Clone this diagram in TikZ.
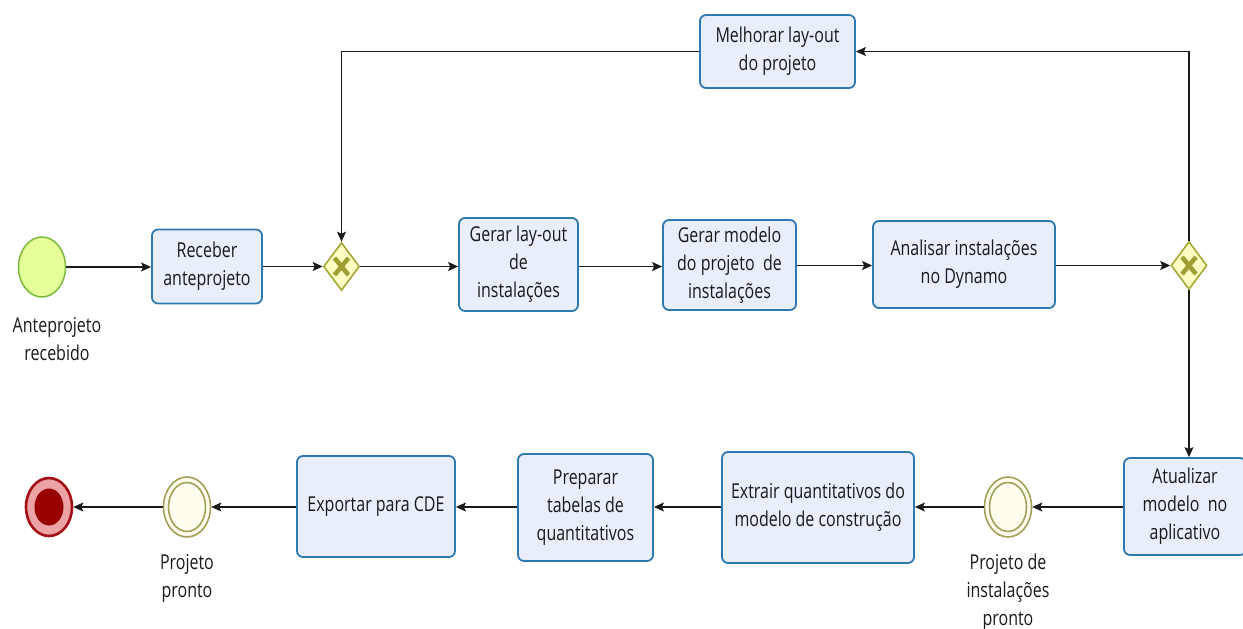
\documentclass[tikz,border=0pt]{standalone}
\usepackage{fontspec}
\setmainfont[FakeStretch=0.78]{Open Sans}
\usetikzlibrary{shapes.geometric,arrows.meta,calc}
\definecolor{taskfill}{HTML}{E9EEFB}
\definecolor{taskdraw}{HTML}{2F78B0}
\definecolor{gwfill}{HTML}{FFFFC4}
\definecolor{gwdraw}{HTML}{A6A636}
\definecolor{startfill}{HTML}{E5FF99}
\definecolor{startdraw}{HTML}{7BBA3C}
\definecolor{evfill}{HTML}{FFFDEE}
\definecolor{evdraw}{HTML}{A39E58}
\definecolor{endfill}{HTML}{EBA3A6}
\definecolor{enddraw}{HTML}{A30F14}
\definecolor{endin}{HTML}{990000}
\definecolor{flow}{HTML}{1A1A1A}
\tikzset{
  task/.style={draw=taskdraw, fill=taskfill, line width=1.8pt, rounded corners=6pt,
    align=center, inner sep=0pt, font=\fontsize{20.5}{28}\selectfont, text=black!90},
  gw/.style={diamond, draw=gwdraw, fill=gwfill, line width=1.6pt, minimum width=36pt,
    minimum height=48pt, inner sep=0pt, aspect=0.75},
  gwx/.style={line width=4.5pt, gwdraw!95!black},
  startev/.style={ellipse, draw=startdraw, fill=startfill, line width=1.5pt,
    minimum width=47pt, minimum height=60pt, inner sep=0pt},
  midev/.style={ellipse, draw=evdraw, fill=evfill, line width=1.6pt,
    minimum width=47pt, minimum height=60pt, inner sep=0pt},
  midin/.style={ellipse, draw=evdraw, line width=1.6pt, minimum width=37pt,
    minimum height=49pt, inner sep=0pt},
  endev/.style={ellipse, draw=enddraw, fill=endfill, line width=2.6pt,
    minimum width=46pt, minimum height=58pt, inner sep=0pt},
  lbl/.style={align=center, font=\fontsize{20.5}{28}\selectfont, text=black!90},
  flowline/.style={draw=flow, line width=1.2pt, -{Stealth[length=10pt,width=9pt,inset=2pt]}}
}
\begin{document}
\begin{tikzpicture}[x=1pt,y=-1pt]
\useasboundingbox (0,0) rectangle (1243,629);
% events
\node[startev] (start) at (42,267) {};
\node[lbl] (startlbl) at (57,339) {Anteprojeto\\recebido};
% tasks top row
\node[task, minimum width=110pt, minimum height=74pt] (receber) at (207,266.5) {Receber\\anteprojeto};
\node[gw] (gw1) at (341.5,266.5) {};
\draw[gwx] ($(gw1)+(-7,-8.5)$) -- ($(gw1)+(7,8.5)$) ($(gw1)+(-7,8.5)$) -- ($(gw1)+(7,-8.5)$);
\node[task, minimum width=119pt, minimum height=93pt] (gerar) at (518.5,264.5) {Gerar lay-out\\de\\instalações};
\node[task, minimum width=133pt, minimum height=90pt] (modelo) at (729.5,265) {Gerar modelo\\do projeto\ \ de\\instalações};
\node[task, minimum width=182pt, minimum height=87pt] (analisar) at (964,264.5) {Analisar instalações\\no Dynamo};
\node[gw] (gw2) at (1189,265.5) {};
\draw[gwx] ($(gw2)+(-7,-8.5)$) -- ($(gw2)+(7,8.5)$) ($(gw2)+(-7,8.5)$) -- ($(gw2)+(7,-8.5)$);
\node[task, minimum width=155pt, minimum height=73pt] (melhorar) at (777.5,51.5) {Melhorar lay-out\\do projeto};
% bottom row
\node[task, minimum width=122pt, minimum height=97pt] (atualizar) at (1185,506.5) {Atualizar\\modelo\ \ no\\aplicativo};
\node[midev] (ev1) at (1008,507) {};
\node[midin] (ev1in) at (ev1) {};
\node[lbl] (ev1lbl) at (1008,592) {Projeto de\\instalações\\pronto};
\node[task, minimum width=192pt, minimum height=111pt] (extrair) at (818,507.5) {Extrair quantitativos do\\modelo de construção};
\node[task, minimum width=135pt, minimum height=107pt] (preparar) at (585.5,507.5) {Preparar\\tabelas de\\quantitativos};
\node[task, minimum width=158pt, minimum height=101pt] (exportar) at (376,506.5) {Exportar para CDE};
\node[midev] (ev2) at (187,507) {};
\node[midin] (ev2in) at (ev2) {};
\node[lbl] (ev2lbl) at (187,578) {Projeto\\pronto};
\node[endev] (end) at (49,507) {};
\node[ellipse, fill=endin, minimum width=29pt, minimum height=37pt, inner sep=0pt] (endin) at (end) {};
% flows
\draw[flowline] (start) -- (receber.west |- start);
\draw[flowline] (receber.east) -- (gw1.west);
\draw[flowline] (gw1.east) -- (gerar.west |- gw1);
\draw[flowline] (gerar.east |- gw1) -- (modelo.west |- gw1);
\draw[flowline] (modelo.east |- gw2) -- (analisar.west |- gw2);
\draw[flowline] (analisar.east |- gw2) -- (gw2.west);
\draw[flowline] (gw2.south) -- (atualizar.north -| gw2);
\draw[flowline] (gw2.north) |- (melhorar.east);
\draw[flowline] (melhorar.west) -| (gw1.north);
\draw[flowline] (atualizar.west |- ev1) -- (ev1.east);
\draw[flowline] (ev1.west) -- (extrair.east |- ev1);
\draw[flowline] (extrair.west |- ev1) -- (preparar.east |- ev1);
\draw[flowline] (preparar.west |- ev1) -- (exportar.east |- ev1);
\draw[flowline] (exportar.west |- ev2) -- (ev2.east);
\draw[flowline] (ev2.west) -- (end.east);
\end{tikzpicture}
\end{document}
